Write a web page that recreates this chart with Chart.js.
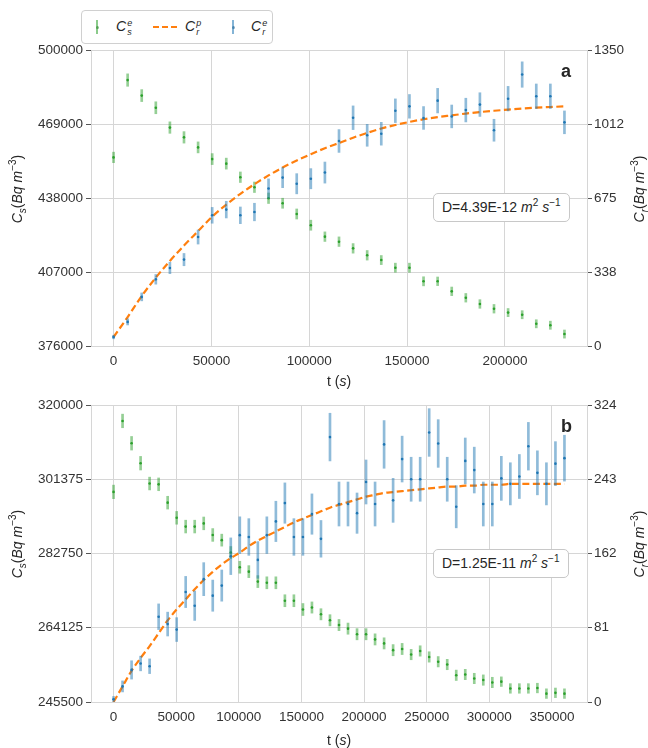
<!DOCTYPE html>
<html>
<head>
<meta charset="utf-8">
<script src="https://cdn.jsdelivr.net/npm/chart.js@4.4.1/dist/chart.umd.min.js"></script>
<style>
  body { margin: 0; background: #fff; font-family: "Liberation Sans", Arial, sans-serif; color: #262626; }
  #page { position: relative; width: 648px; height: 748px; overflow: hidden; }
  .panel { position: absolute; left: 0; width: 648px; }
  .txt { position: absolute; white-space: nowrap; font-size: 14px; line-height: 1; }
  .rot { transform: translate(-50%, -50%) rotate(-90deg); }
  .ctr { transform: translate(-50%, -50%); }
  sub, sup { font-size: 10px; line-height: 0; }
  .dbox { position: absolute; background: #fff; border: 1px solid #c8c8c8; border-radius: 5px;
          font-size: 14px; padding: 5px 8px 6px 8px; white-space: nowrap; }
  .tag { position: absolute; font-weight: bold; font-size: 18px; }
  #legend { position: absolute; left: 81px; top: 10px; width: 190px; height: 32px;
            border: 1px solid #d0d0d0; border-radius: 4px; background: #fff; }
  .mk { position: absolute; top: 9px; width: 2px; height: 14px; }
  .mk::after { content: ""; position: absolute; left: -0.5px; top: 5.5px; width: 3px; height: 3px; border-radius: 50%; background: inherit; filter: brightness(0.8); }
  .dash { position: absolute; top: 15px; width: 24px; height: 0; border-top: 2px dashed #ff7f0e; }
  .lab { position: absolute; top: 8px; font-size: 14px; line-height: 14px; }
  .ss { display: inline-flex; flex-direction: column; font-size: 9px; line-height: 9px; vertical-align: 5px; margin-left: 1px; }
</style>
</head>
<body>
<div id="page">
  <div class="panel" style="top:0;height:390px"><canvas id="chartA" width="648" height="390"></canvas></div>
  <div class="panel" style="top:390px;height:358px"><canvas id="chartB" width="648" height="358"></canvas></div>

  <div id="legend">
    <div class="mk" style="left:14px;background:rgba(44,160,44,0.55)"></div>
    <div class="lab" style="left:34px"><i>C</i><span class="ss"><i>e</i><i>s</i></span></div>
    <div class="dash" style="left:71px"></div>
    <div class="lab" style="left:103px"><i>C</i><span class="ss"><i>p</i><i>r</i></span></div>
    <div class="mk" style="left:150px;background:rgba(31,119,180,0.55)"></div>
    <div class="lab" style="left:169px"><i>C</i><span class="ss"><i>e</i><i>r</i></span></div>
  </div>

  <div class="txt rot" style="left:17px;top:189px"><i>C</i><sub><i>s</i></sub>(<i>Bq m</i><sup>−3</sup>)</div>
  <div class="txt rot" style="left:639px;top:189px"><i>C</i><sub><i>r</i></sub>(<i>Bq m</i><sup>−3</sup>)</div>
  <div class="txt ctr" style="left:339px;top:381px">t (<i>s</i>)</div>
  <div class="dbox" style="left:433px;top:193px">D=4.39E-12 <i>m</i><sup>2</sup> <i>s</i><sup>−1</sup></div>
  <div class="tag" style="left:561px;top:61px">a</div>

  <div class="txt rot" style="left:17px;top:544px"><i>C</i><sub><i>s</i></sub>(<i>Bq m</i><sup>−3</sup>)</div>
  <div class="txt rot" style="left:639px;top:544px"><i>C</i><sub><i>r</i></sub>(<i>Bq m</i><sup>−3</sup>)</div>
  <div class="txt ctr" style="left:339px;top:740px">t (<i>s</i>)</div>
  <div class="dbox" style="left:433px;top:549px">D=1.25E-11 <i>m</i><sup>2</sup> <i>s</i><sup>−1</sup></div>
  <div class="tag" style="left:561px;top:416px">b</div>
</div>

<script>
// ---- panel a ----
const timeA = [0, 7200, 14400, 21600, 28800, 36000, 43200, 50400, 57600, 64800, 72000, 79200, 86400,
  93600, 100800, 108000, 115200, 122400, 129600, 136800, 144000, 151200, 158400, 165600, 172800,
  180000, 187200, 194400, 201600, 208800, 216000, 223200, 230400];
const csA = [455000, 487400, 480900, 475800, 467500, 463400, 459200, 454300, 452400, 446700, 442500,
  437900, 435800, 431300, 426600, 421800, 419700, 416900, 414000, 412000, 408800, 408800, 403100,
  403100, 398900, 396200, 393600, 391600, 390000, 389100, 385300, 384700, 381000];
const csErrA = [2200, 2600, 2500, 2500, 2400, 2400, 2300, 2300, 2300, 2200, 2200, 2200, 2100, 2100,
  2100, 2000, 2000, 2000, 2000, 1900, 1900, 1900, 1900, 1800, 1800, 1800, 1800, 1800, 1700, 1700,
  1700, 1700, 1700];
const crA = [41, 110, 224, 304, 356, 394, 497, 596, 622, 596, 611, 718, 768, 740, 763, 791, 935, 1041,
  961, 968, 1073, 1093, 1040, 1119, 1047, 1076, 1101, 984, 1128, 1238, 1139, 1139, 1020];
const crErrA = [8, 14, 18, 22, 26, 28, 32, 36, 38, 38, 40, 44, 46, 46, 46, 48, 52, 54, 50, 52, 54, 54,
  52, 56, 52, 54, 54, 50, 56, 58, 56, 56, 52];
const predA = [41, 132, 228, 312, 388, 458, 524, 590, 645, 694, 738, 778, 814, 846, 875, 902, 926, 950,
  972, 992, 1008, 1022, 1034, 1044, 1052, 1060, 1067, 1073, 1078, 1083, 1087, 1090, 1093];
const xTicksA = [0, 50000, 100000, 150000, 200000];
const leftTicksA = [376000, 407000, 438000, 469000, 500000];
const rightTicksA = [0, 337.5, 675, 1012.5, 1350];
const rightLabelsA = ['0', '338', '675', '1012', '1350'];

// ---- panel b ----
const timeB = [0, 7200, 14400, 21600, 28800, 36000, 43200, 50400, 57600, 64800, 72000, 79200, 86400,
  93600, 100800, 108000, 115200, 122400, 129600, 136800, 144000, 151200, 158400, 165600, 172800,
  180000, 187200, 194400, 201600, 208800, 216000, 223200, 230400, 237600, 244800, 252000, 259200,
  266400, 273600, 280800, 288000, 295200, 302400, 309600, 316800, 324000, 331200, 338400, 345600,
  352800, 360000];
const csB = [298200, 316000, 310400, 305400, 300300, 300100, 295500, 291700, 289500, 289500, 290300,
  287400, 286100, 283000, 279300, 278200, 275700, 275400, 275400, 270900, 270900, 268700, 269200,
  267500, 266000, 264800, 263900, 262500, 262500, 261200, 260200, 258500, 258800, 257400, 258300,
  256800, 255600, 254900, 252200, 252400, 251400, 251000, 250400, 250600, 248900, 248900, 248900,
  249000, 247600, 247800, 247600];
const csErrB = [1700, 1700, 1700, 1700, 1600, 1600, 1600, 1600, 1600, 1600, 1600, 1600, 1500, 1500,
  1500, 1500, 1500, 1500, 1500, 1500, 1500, 1500, 1400, 1400, 1400, 1400, 1400, 1400, 1400, 1400,
  1400, 1400, 1400, 1300, 1300, 1300, 1300, 1300, 1300, 1300, 1300, 1300, 1300, 1200, 1200, 1200,
  1200, 1200, 1200, 1200, 1200];
const crB = [3, 17, 35, 42, 39, 93, 85, 79, 120, 105, 134, 116, 127, 159, 182, 180, 155, 182, 197, 217,
  180, 180, 205, 178, 289, 216, 216, 206, 240, 216, 281, 220, 265, 243, 243, 294, 282, 243, 213, 263,
  253, 216, 216, 244, 238, 246, 279, 250, 238, 260, 266];
const crErrB = [3, 6, 10, 8, 8, 14, 13, 13, 17, 16, 18, 17, 17, 20, 20, 20, 20, 20, 22, 22, 20, 20, 22,
  20, 26, 24, 24, 22, 24, 24, 26, 24, 25, 24, 24, 26, 26, 24, 23, 25, 25, 24, 24, 24, 23, 24, 26, 24,
  23, 24, 25];
const predB = [0, 17, 34, 48, 61, 75, 89, 101, 112, 123, 133, 142, 150, 157, 163, 170, 176, 181, 186,
  191, 196, 200, 204, 208, 212, 215, 218, 221, 224, 226, 228, 229, 230, 231, 232, 233, 234, 235, 235,
  236, 236, 237, 237, 237, 238, 238, 238, 238, 238, 238, 238];
const xTicksB = [0, 50000, 100000, 150000, 200000, 250000, 300000, 350000];
const leftTicksB = [245500, 264125, 282750, 301375, 320000];
const rightTicksB = [0, 81, 162, 243, 324];
const rightLabelsB = ['0', '81', '162', '243', '324'];

const GREEN = '#2ca02c', BLUE = '#1f77b4', ORANGE = '#ff7f0e';
const GRID = '#d6d6d6', TICKC = '#555', TXT = '#333';
const tickFont = { family: '"Liberation Sans", Arial, sans-serif', size: 13.5 };

const points = (xs, ys) => xs.map((x, i) => ({ x: x, y: ys[i] }));
const bars = (xs, ys, es) => xs.map((x, i) => ({ x: x, y: [ys[i] - es[i], ys[i] + es[i]] }));

function makePanel(id, p) {
  const span = p.time[p.time.length - 1];
  return new Chart(document.getElementById(id), {
    type: 'bar',
    data: {
      datasets: [
        { type: 'scatter', data: points(p.time, p.cr), yAxisID: 'yR', pointRadius: 1.3,
          backgroundColor: BLUE, borderWidth: 0, order: 0 },
        { type: 'bar', data: bars(p.time, p.cr, p.crErr), yAxisID: 'yR', grouped: false,
          backgroundColor: 'rgba(31,119,180,0.5)', barThickness: 2, order: 1 },
        { type: 'line', data: points(p.time, p.pred), yAxisID: 'yR', borderColor: ORANGE,
          borderWidth: 2.2, borderDash: [7, 3.5], pointRadius: 0, cubicInterpolationMode: 'monotone',
          fill: false, order: 2 },
        { type: 'scatter', data: points(p.time, p.cs), yAxisID: 'yL', pointRadius: 1.3,
          backgroundColor: GREEN, borderWidth: 0, order: 3 },
        { type: 'bar', data: bars(p.time, p.cs, p.csErr), yAxisID: 'yL', grouped: false,
          backgroundColor: 'rgba(44,160,44,0.5)', barThickness: 2, order: 4 }
      ]
    },
    options: {
      responsive: false,
      animation: false,
      devicePixelRatio: 1,
      layout: { padding: { top: p.padTop, left: 0, right: 0, bottom: 0 } },
      plugins: { legend: { display: false }, tooltip: { enabled: false } },
      scales: {
        x: {
          type: 'linear', offset: false,
          min: -0.05 * span, max: 1.05 * span,
          grid: { color: GRID, drawTicks: false, offset: false },
          border: { color: GRID },
          ticks: { font: tickFont, color: TXT, padding: 7, maxRotation: 0, callback: v => String(v) },
          afterBuildTicks: s => { s.ticks = p.xTicks.map(v => ({ value: v })); },
          afterFit: s => { s.height = p.xHeight; }
        },
        yL: {
          type: 'linear', position: 'left',
          min: p.left[0], max: p.left[p.left.length - 1],
          grid: { color: GRID, tickColor: TICKC, tickLength: 5 },
          border: { color: GRID },
          ticks: { font: tickFont, color: TXT, padding: 3, callback: v => String(v) },
          afterBuildTicks: s => { s.ticks = p.left.map(v => ({ value: v })); },
          afterFit: s => { s.width = 91; }
        },
        yR: {
          type: 'linear', position: 'right',
          min: p.right[0], max: p.right[p.right.length - 1],
          grid: { drawOnChartArea: false, tickColor: TICKC, tickLength: 5 },
          border: { color: GRID },
          ticks: { font: tickFont, color: TXT, padding: 2, callback: (v, i) => p.rightLabels[i] },
          afterBuildTicks: s => { s.ticks = p.right.map(v => ({ value: v })); },
          afterFit: s => { s.width = 61; }
        }
      }
    }
  });
}

makePanel('chartA', { time: timeA, cs: csA, csErr: csErrA, cr: crA, crErr: crErrA, pred: predA,
  xTicks: xTicksA, left: leftTicksA, right: rightTicksA, rightLabels: rightLabelsA, padTop: 50, xHeight: 44 });
makePanel('chartB', { time: timeB, cs: csB, csErr: csErrB, cr: crB, crErr: crErrB, pred: predB,
  xTicks: xTicksB, left: leftTicksB, right: rightTicksB, rightLabels: rightLabelsB, padTop: 15, xHeight: 46 });
</script>
</body>
</html>
